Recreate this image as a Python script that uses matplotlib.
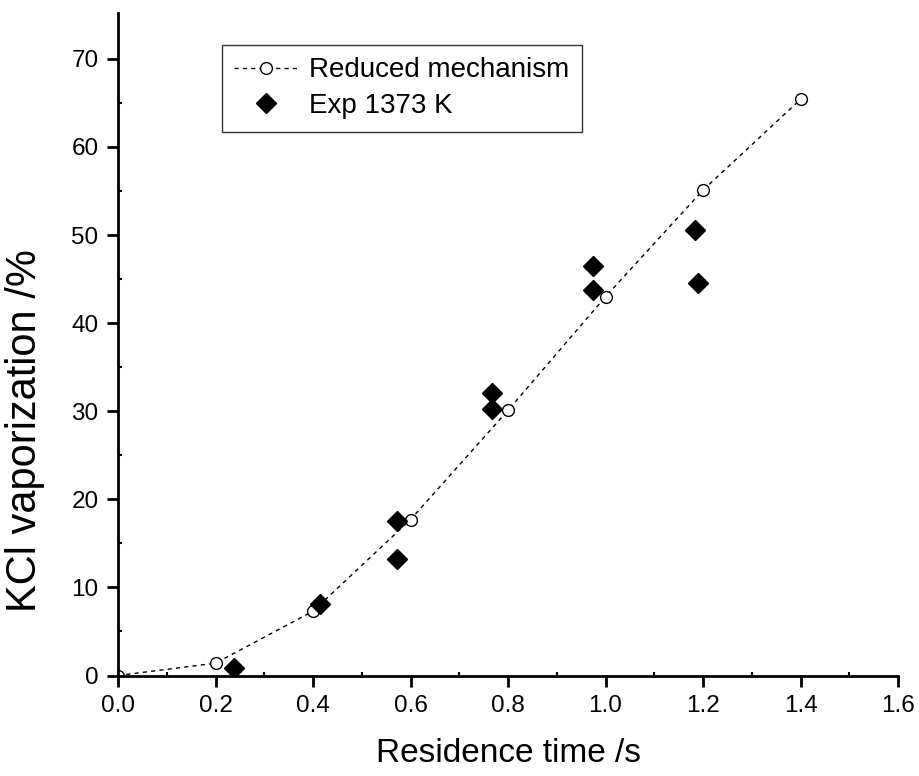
import numpy as np
import matplotlib
matplotlib.use('Agg')
import matplotlib.pyplot as plt

plt.rcParams['font.family'] = ['Liberation Sans', 'DejaVu Sans']

# model curve (reduced mechanism)
model_t = [0.0, 0.2, 0.4, 0.6, 0.8, 1.0, 1.2, 1.4]
model_v = [0.0, 1.4, 7.3, 17.7, 30.1, 43.0, 55.1, 65.4]

# experiment at 1373 K
exp_t = [0.237, 0.415, 0.572, 0.572, 0.767, 0.767, 0.975, 0.975, 1.183, 1.19]
exp_v = [0.9, 8.1, 17.5, 13.2, 32.1, 30.2, 46.5, 43.8, 50.6, 44.6]

xticks = [0.0, 0.2, 0.4, 0.6, 0.8, 1.0, 1.2, 1.4, 1.6]
yticks = [0, 10, 20, 30, 40, 50, 60, 70]

fig = plt.figure(figsize=(9.2, 7.76), dpi=100)
ax = fig.add_axes([0.1283, 0.1295, 0.8478, 0.8537])

ax.plot(model_t, model_v, color='k', linestyle=(0, (3, 3)), linewidth=1.0,
        marker='o', markersize=8.5, markerfacecolor='white', markeredgecolor='k',
        markeredgewidth=1.0, label='Reduced mechanism')
ax.plot(exp_t, exp_v, linestyle='none', marker='D', markersize=10,
        color='k', label='Exp 1373 K')

ax.set_xlim(0, 1.6)
ax.set_ylim(0, 75.2)
ax.set_xticks(xticks)
ax.set_xticklabels(['%.1f' % v for v in xticks])
ax.set_yticks(yticks)
ax.set_xticks(np.arange(0.1, 1.6, 0.2), minor=True)
ax.set_yticks(np.arange(5, 75, 10), minor=True)

for s in ['top', 'right']:
    ax.spines[s].set_visible(False)
for s in ['left', 'bottom']:
    ax.spines[s].set_linewidth(2)

ax.tick_params(which='major', direction='out', length=8, width=2, labelsize=17.5, pad=6)
ax.tick_params(which='minor', direction='in', length=3, width=1.5)

ax.set_xlabel('Residence time /s', fontsize=24, labelpad=15)
ax.set_ylabel('KCl vaporization /%', fontsize=30)
ax.yaxis.set_label_coords(-0.094, 0.37)

leg = ax.legend(loc='upper left', bbox_to_anchor=(0.133, 0.952), borderaxespad=0,
                fontsize=20, frameon=True, fancybox=False, handlelength=2.3,
                handletextpad=0.4, borderpad=0.45, labelspacing=0.35)
leg.get_frame().set_edgecolor('k')
leg.get_frame().set_linewidth(1.0)

fig.savefig('out.png', dpi=100)
